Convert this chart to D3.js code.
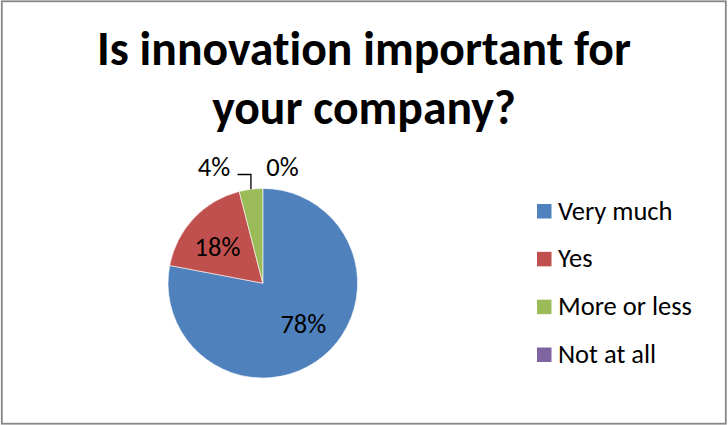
<!DOCTYPE html>
<html>
<head>
<meta charset="utf-8">
<script src="https://cdn.jsdelivr.net/npm/d3@7"></script>
<style>
  html, body { margin: 0; padding: 0; background: #fff; }
  svg { display: block; }
  text {
    font-family: Carlito, Lato, "Liberation Sans", sans-serif;
    font-variant-ligatures: none;
    font-feature-settings: "liga" 0, "clig" 0;
  }
</style>
</head>
<body>
<svg id="chart" width="728" height="425"></svg>
<script>
// Survey answers and their share of respondents (percent)
const categories = ["Very much", "Yes", "More or less", "Not at all"];
const values = [78, 18, 4, 0];
const colors = ["#4F81BD", "#C0504D", "#9BBB59", "#8064A2"];
const titleLines = ["Is innovation important for", "your company?"];

const W = 728, H = 425;
const svg = d3.select("#chart");

// outer frame
svg.append("rect")
  .attr("x", 1.8).attr("y", 1.3)
  .attr("width", W - 4).attr("height", H - 2.6)
  .attr("fill", "#fff")
  .attr("stroke", "#878787")
  .attr("stroke-width", 1.8);

// title, two centred lines
const title = svg.append("g");
const titleBaselines = [65, 123.5];
titleLines.forEach((line, i) => {
  title.append("text")
    .attr("x", 364).attr("y", titleBaselines[i])
    .attr("text-anchor", "middle")
    .attr("font-weight", "bold")
    .attr("font-size", 48)
    .attr("fill", "#000")
    .text(line);
});
// fit first line to its intended width, apply the same size to both
{
  const first = title.select("text").node();
  const w = first.getComputedTextLength();
  const size = 48 * 534 / w;
  title.selectAll("text").attr("font-size", size);
}

// pie
const cx = 262.8, cy = 283.2, r = 94.8;
const color = d3.scaleOrdinal().domain(categories).range(colors);
const pie = d3.pie().sort(null).value(d => d.value).startAngle(0).endAngle(2 * Math.PI);
const data = categories.map((c, i) => ({ name: c, value: values[i] }));
const arcs = pie(data);
const arc = d3.arc().innerRadius(0).outerRadius(r);

const pieG = svg.append("g").attr("transform", `translate(${cx},${cy})`);
pieG.selectAll("path")
  .data(arcs)
  .join("path")
  .attr("d", arc)
  .attr("fill", d => color(d.data.name))
  .attr("stroke", "#fff")
  .attr("stroke-width", d => d.value > 0 ? 0.6 : 0);

// data labels
const labelSize = 26.5;
const fmt = v => v + "%";
// the two large slices get labels inside, the small ones sit above the rim
const labelR = 57.5, labelTurn = -0.09;
const labelPos = arcs.map((d, i) => {
  if (i < 2) {
    const a = (d.startAngle + d.endAngle) / 2 + labelTurn;
    return { x: cx + Math.sin(a) * labelR, y: cy - Math.cos(a) * labelR + 8.5 };
  }
  return null;
});
// small slices: labels placed above the top of the pie
labelPos[2] = { x: 214, y: 176 };
labelPos[3] = { x: 282.5, y: 176 };

svg.append("g").selectAll("text")
  .data(arcs)
  .join("text")
  .attr("x", (d, i) => labelPos[i].x)
  .attr("y", (d, i) => labelPos[i].y)
  .attr("text-anchor", "middle")
  .attr("font-size", labelSize)
  .attr("fill", "#000")
  .text(d => fmt(d.value));

// leader line from the small green slice to its label
{
  const d = arcs[2];
  const mid = (d.startAngle + d.endAngle) / 2;
  const ex = cx + Math.sin(mid) * r;
  const ey = cy - Math.cos(mid) * r;
  svg.append("path")
    .attr("d", `M${237.5},${174.5} H${ex} V${ey}`)
    .attr("fill", "none")
    .attr("stroke", "#000")
    .attr("stroke-width", 1.3);
}

// legend
const legend = svg.append("g");
const legY = d3.scalePoint().domain(categories).range([219.5, 363]);
const items = legend.selectAll("g")
  .data(categories)
  .join("g")
  .attr("transform", d => `translate(0,${legY(d)})`);
items.append("rect")
  .attr("x", 537).attr("y", -15.5)
  .attr("width", 14.5).attr("height", 14.5)
  .attr("fill", d => color(d));
items.append("text")
  .attr("x", 558).attr("y", 0)
  .attr("font-size", labelSize)
  .attr("fill", "#000")
  .text(d => d);
</script>
</body>
</html>
